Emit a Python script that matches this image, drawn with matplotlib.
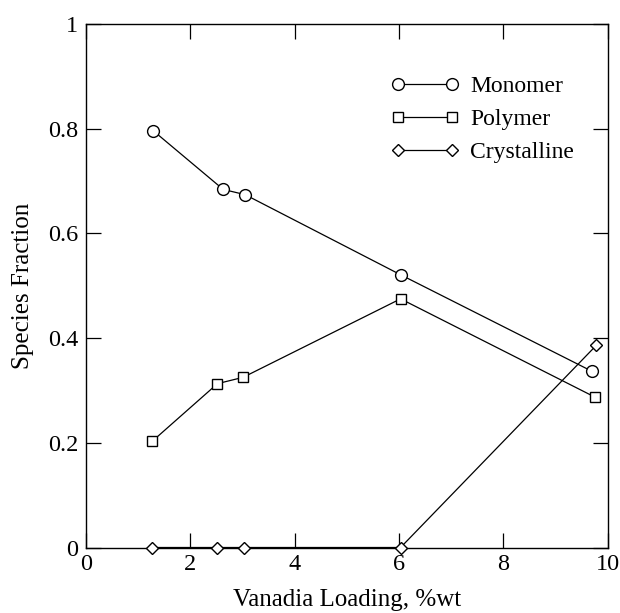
import matplotlib.pyplot as plt

# Data
monomer_x = [1.29, 2.63, 3.05, 6.03, 9.69]
monomer_y = [0.796, 0.684, 0.674, 0.521, 0.337]
polymer_x = [1.27, 2.52, 3.01, 6.03, 9.76]
polymer_y = [0.203, 0.313, 0.325, 0.475, 0.287]
cryst_x = [1.27, 2.52, 3.03, 6.03, 9.78]
cryst_y = [0.0, 0.0, 0.0, 0.0, 0.386]

x_ticks = [0, 2, 4, 6, 8, 10]
y_ticks = [0, 0.2, 0.4, 0.6, 0.8, 1]
y_labels = ['0', '0.2', '0.4', '0.6', '0.8', '1']

plt.rcParams['font.family'] = ['Liberation Serif', 'DejaVu Serif']

fig = plt.figure(figsize=(6.2, 6.13), dpi=100)
ax = fig.add_axes([86 / 620, 1 - 547.5 / 613, 521.7 / 620, 523.5 / 613])

style = dict(color='black', lw=0.9, mfc='white', mec='black', mew=1.0, clip_on=False)
ax.plot(monomer_x, monomer_y, marker='o', ms=8.5, label='Monomer', **style)
ax.plot(polymer_x, polymer_y, marker='s', ms=7, label='Polymer', **style)
ax.plot(cryst_x, cryst_y, marker='D', ms=6, label='Crystalline', **style, zorder=3)

ax.set_xlim(0, 10)
ax.set_ylim(0, 1)
ax.set_xticks(x_ticks)
ax.set_xticklabels([str(t) for t in x_ticks])
ax.set_yticks(y_ticks)
ax.set_yticklabels(y_labels)
ax.tick_params(direction='in', length=10.5, width=0.9, top=True, right=True,
               labelsize=17.5)
ax.tick_params(axis='y', pad=5.5)
ax.tick_params(axis='x', pad=5)
for s in ax.spines.values():
    s.set_linewidth(1.0)

ax.set_xlabel('Vanadia Loading, %wt', fontsize=18, labelpad=9.5)
ax.set_ylabel('Species Fraction', fontsize=18, labelpad=10)

ax.legend(loc='upper left', bbox_to_anchor=(0.585, 0.902), frameon=False,
          fontsize=17, handlelength=2.88, numpoints=2, labelspacing=0.5,
          handletextpad=0.47, borderpad=0, borderaxespad=0)

fig.savefig('out.png', dpi=100)
